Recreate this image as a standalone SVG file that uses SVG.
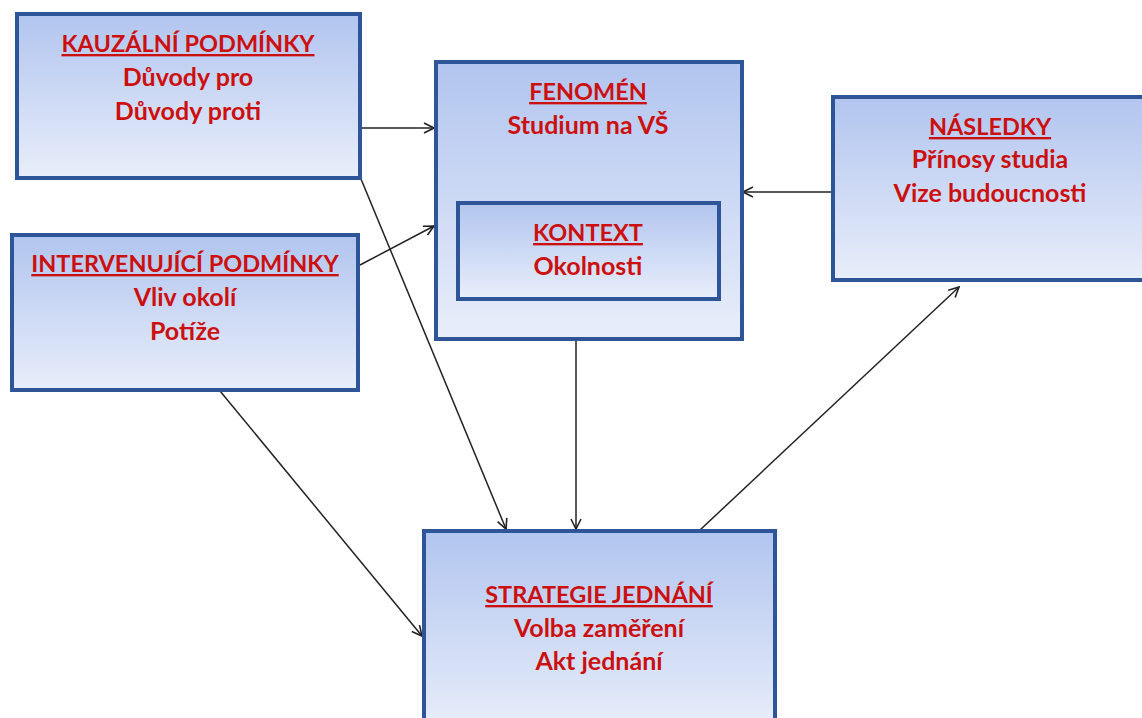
<svg xmlns="http://www.w3.org/2000/svg" width="1142" height="718" viewBox="0 0 1142 718">
<defs>
<linearGradient id="g" x1="0" y1="0" x2="0" y2="1">
<stop offset="0" stop-color="#b2c5ef"/>
<stop offset="1" stop-color="#e8eefa"/>
</linearGradient>
<marker id="a" viewBox="0 0 12 12" refX="11" refY="6" markerWidth="12" markerHeight="12" markerUnits="userSpaceOnUse" orient="auto">
<path d="M1,1 L11,6 L1,11" fill="none" stroke="#222" stroke-width="1.6"/>
</marker>
<style>
.box{fill:url(#g);stroke:#2e5597;stroke-width:4}
.t{font-family:Lato,"Open Sans",sans-serif;font-weight:bold;font-size:25px;fill:#cc1010;text-anchor:middle}
.u{text-decoration:underline;font-size:23.5px}
.c{fill:none;stroke:#222;stroke-width:1.5;marker-end:url(#a)}
</style>
</defs>
<rect width="1142" height="718" fill="#fff"/>
<g id="connectors">
<line class="c" x1="360" y1="128" x2="434" y2="128"/>
<line class="c" x1="361" y1="179" x2="506" y2="529"/>
<line class="c" x1="360" y1="265" x2="434" y2="226"/>
<line class="c" x1="220" y1="391" x2="422" y2="636"/>
<line class="c" x1="576" y1="341" x2="576" y2="529"/>
<line class="c" x1="832" y1="192" x2="743" y2="192"/>
<line class="c" x1="700" y1="530" x2="959" y2="287"/>
</g>
<g id="kauzalni">
<rect class="box" x="17" y="14" width="343" height="164"/>
<text class="t u" x="188" y="52">KAUZÁLNÍ PODMÍNKY</text>
<text class="t" x="188" y="86">Důvody pro</text>
<text class="t" x="188" y="120">Důvody proti</text>
</g>
<g id="intervenujici">
<rect class="box" x="12" y="235" width="346" height="155"/>
<text class="t u" x="185" y="272">INTERVENUJÍCÍ PODMÍNKY</text>
<text class="t" x="185" y="306">Vliv okolí</text>
<text class="t" x="185" y="340">Potíže</text>
</g>
<g id="fenomen">
<rect class="box" x="436" y="62" width="306" height="277"/>
<text class="t u" x="588" y="100">FENOMÉN</text>
<text class="t" x="588" y="134">Studium na VŠ</text>
</g>
<g id="kontext">
<rect class="box" x="458" y="203" width="261" height="96"/>
<text class="t u" x="588" y="241">KONTEXT</text>
<text class="t" x="588" y="275">Okolnosti</text>
</g>
<g id="nasledky">
<rect class="box" x="833" y="97" width="320" height="183"/>
<text class="t u" x="990" y="135">NÁSLEDKY</text>
<text class="t" x="990" y="168">Přínosy studia</text>
<text class="t" x="990" y="202">Vize budoucnosti</text>
</g>
<g id="strategie">
<rect class="box" x="424" y="531" width="351" height="200"/>
<text class="t u" x="599" y="603">STRATEGIE JEDNÁNÍ</text>
<text class="t" x="599" y="637">Volba zaměření</text>
<text class="t" x="599" y="670">Akt jednání</text>
</g>
</svg>
